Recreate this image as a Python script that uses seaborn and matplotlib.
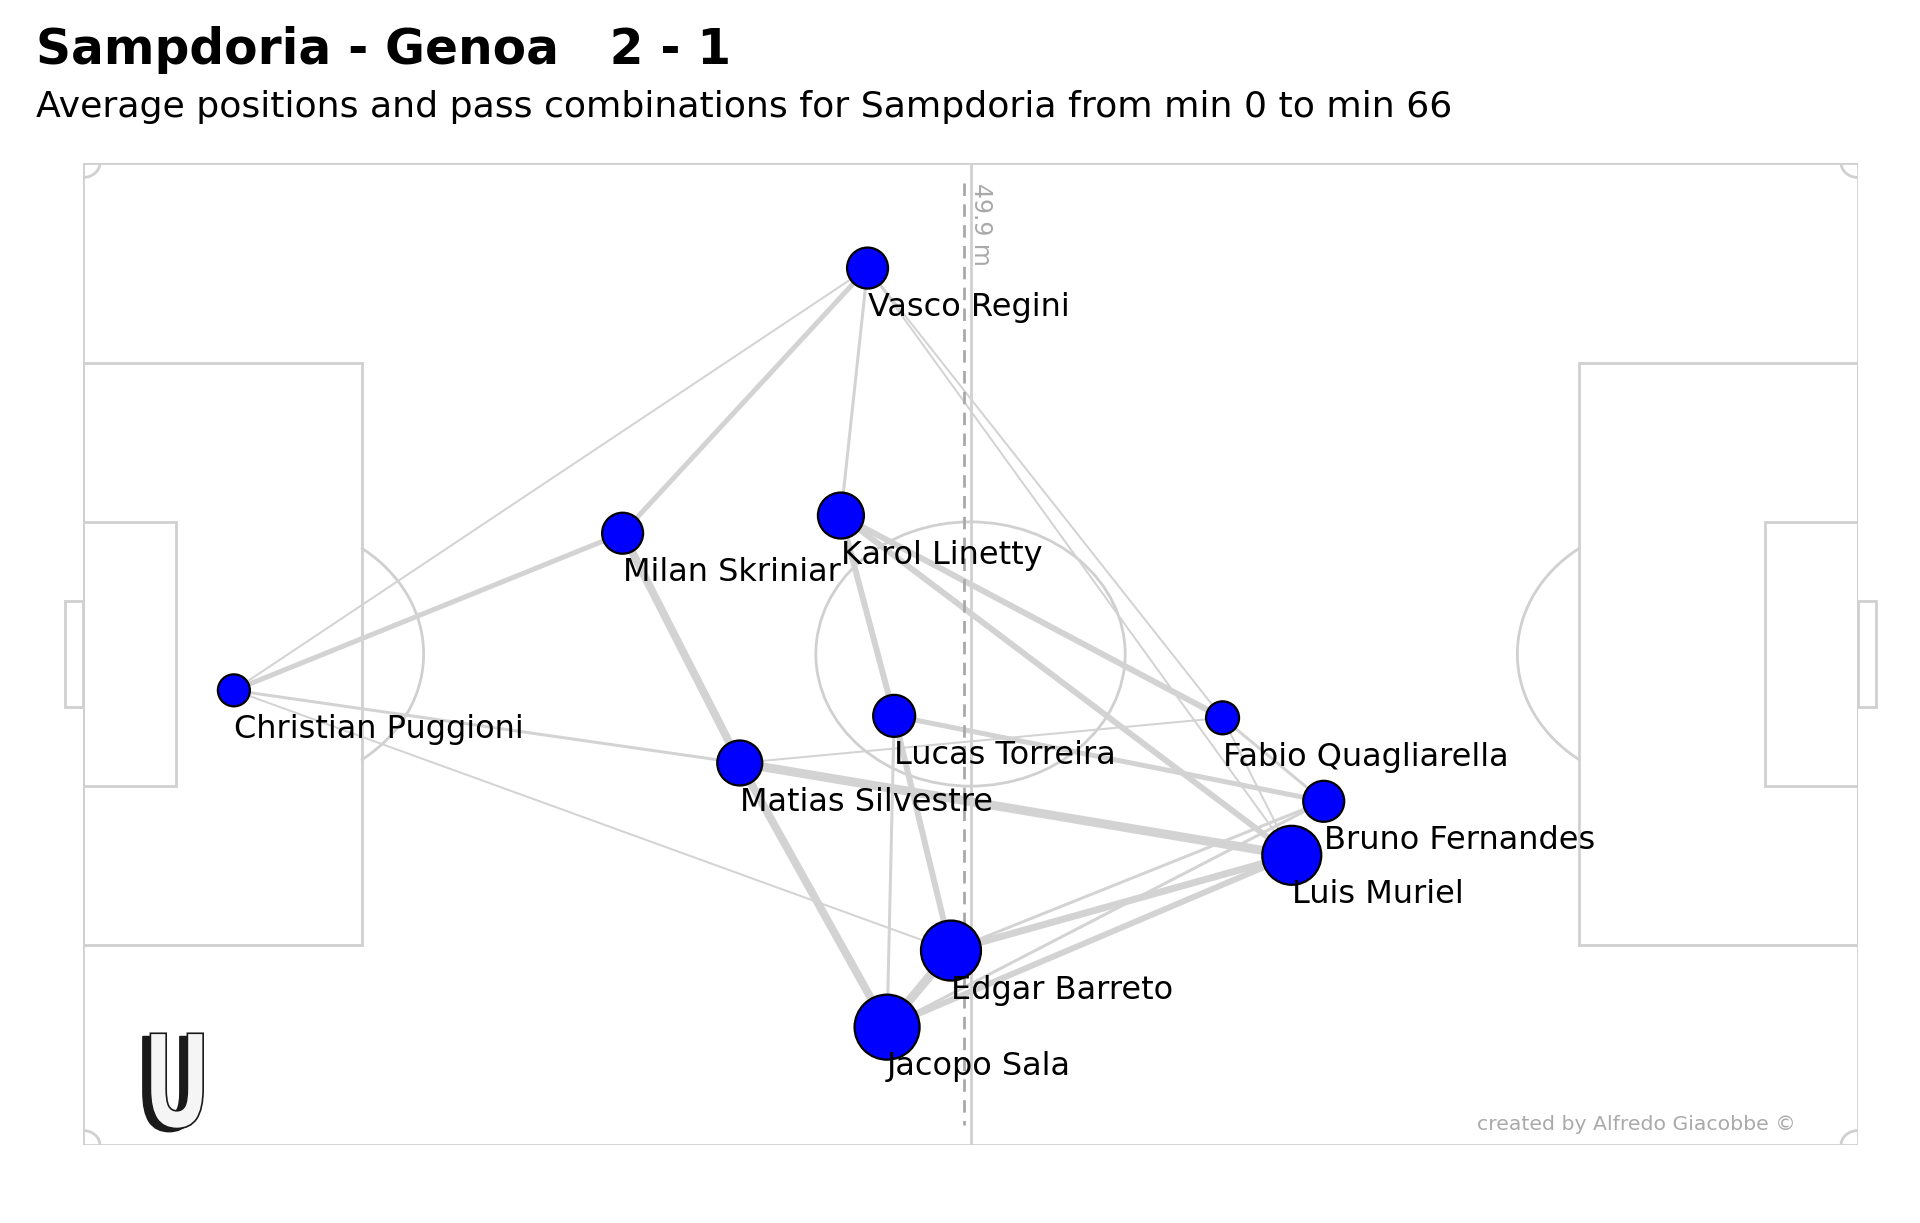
import matplotlib
matplotlib.use("Agg")
import matplotlib.pyplot as plt
import numpy as np
import pandas as pd
import seaborn as sns
from matplotlib.patches import Rectangle, Ellipse, PathPatch
from matplotlib.textpath import TextPath
from matplotlib.font_manager import FontProperties
from matplotlib.transforms import Affine2D

# average positions (wyscout-like 0-100 coordinates, y grows downwards)
players = ["Vasco Regini", "Milan Skriniar", "Karol Linetty", "Christian Puggioni",
           "Matias Silvestre", "Lucas Torreira", "Fabio Quagliarella", "Bruno Fernandes",
           "Luis Muriel", "Edgar Barreto", "Jacopo Sala"]
avg_x = [44.2, 30.4, 42.7, 8.5, 37.0, 45.7, 64.2, 69.9, 68.1, 48.9, 45.3]
avg_y = [10.7, 37.7, 35.9, 53.7, 61.1, 56.3, 56.5, 65.0, 70.5, 80.2, 88.0]
node_size = [41, 41, 46, 32, 45, 42, 33, 41, 59, 60, 65]
goalkeeper = "Christian Puggioni"

# pass combinations
pass_from = ["Christian Puggioni", "Christian Puggioni", "Christian Puggioni", "Christian Puggioni",
             "Vasco Regini", "Vasco Regini", "Vasco Regini", "Vasco Regini",
             "Milan Skriniar", "Matias Silvestre", "Matias Silvestre", "Matias Silvestre",
             "Karol Linetty", "Karol Linetty", "Karol Linetty",
             "Lucas Torreira", "Lucas Torreira", "Lucas Torreira",
             "Fabio Quagliarella", "Fabio Quagliarella",
             "Edgar Barreto", "Edgar Barreto", "Edgar Barreto",
             "Jacopo Sala", "Jacopo Sala"]
pass_to = ["Milan Skriniar", "Vasco Regini", "Matias Silvestre", "Edgar Barreto",
           "Milan Skriniar", "Karol Linetty", "Fabio Quagliarella", "Luis Muriel",
           "Matias Silvestre", "Jacopo Sala", "Luis Muriel", "Fabio Quagliarella",
           "Lucas Torreira", "Fabio Quagliarella", "Luis Muriel",
           "Edgar Barreto", "Jacopo Sala", "Bruno Fernandes",
           "Bruno Fernandes", "Luis Muriel",
           "Jacopo Sala", "Luis Muriel", "Bruno Fernandes",
           "Luis Muriel", "Bruno Fernandes"]
pass_count = [5, 2, 3, 2,
              5, 3, 2, 2,
              8, 8, 9, 2,
              6, 6, 6,
              6, 3, 5,
              3, 2,
              9, 7, 3,
              6, 3]

title = "Sampdoria - Genoa   2 - 1"
subtitle = "Average positions and pass combinations for Sampdoria from min 0 to min 66"
line_label = "49.9 m"

LINE = "#d0d0d0"
W, H = 1920, 1223
SX, SY = 100 / 105, 100 / 68  # metres -> pitch units


def arc(ax, cx, cy, r, t1, t2):
    t = np.radians(np.linspace(t1, t2, 120))
    ax.plot(cx + r * SX * np.cos(t), cy + r * SY * np.sin(t), color=LINE, lw=2, zorder=1)


def draw_pitch(ax):
    kw = dict(fill=False, ec=LINE, lw=2, zorder=1)
    ax.add_patch(Rectangle((0, 0), 100, 100, **kw))
    ax.plot([50, 50], [0, 100], color=LINE, lw=2, zorder=1)
    ax.add_patch(Ellipse((50, 50), 2 * 9.15 * SX, 2 * 9.15 * SY, **kw))
    box_d, box_w = 16.5 * SX, 40.32 * SY
    six_d, six_w = 5.5 * SX, 18.32 * SY
    goal_w = 7.32 * SY
    for x0 in (0, 100 - box_d):
        ax.add_patch(Rectangle((x0, 50 - box_w / 2), box_d, box_w, **kw))
    for x0 in (0, 100 - six_d):
        ax.add_patch(Rectangle((x0, 50 - six_w / 2), six_d, six_w, **kw))
    spot = 11 * SX
    a = np.degrees(np.arccos((box_d - spot) / (9.15 * SX)))
    arc(ax, spot, 50, 9.15, -a, a)
    arc(ax, 100 - spot, 50, 9.15, 180 - a, 180 + a)
    ax.add_patch(Rectangle((-1, 50 - goal_w / 2), 1, goal_w, clip_on=False, **kw))
    ax.add_patch(Rectangle((100, 50 - goal_w / 2), 1, goal_w, clip_on=False, **kw))
    for px, py, t1 in [(0, 0, 0), (100, 0, 90), (100, 100, 180), (0, 100, 270)]:
        arc(ax, px, py, 1, t1, t1 + 90)


sns.set_style("white")
plt.rcParams["text.color"] = "black"
fig = plt.figure(figsize=(W / 100, H / 100), dpi=100)
ax = fig.add_axes([83 / W, (H - 1145) / H, 1775 / W, 982 / H])

draw_pitch(ax)

nodes = pd.DataFrame({"player": players, "x": avg_x, "y": avg_y, "size": node_size})
pos = nodes.set_index("player")

rows = []
for i, (a, b, n) in enumerate(zip(pass_from, pass_to, pass_count)):
    for p in (a, b):
        rows.append({"edge": i, "x": pos.loc[p, "x"], "y": pos.loc[p, "y"], "passes": n})
edges = pd.DataFrame(rows)

sns.lineplot(data=edges, x="x", y="y", units="edge", estimator=None, sort=False,
             size="passes", sizes=(2 * 0.72, 9 * 0.72), size_norm=(2, 9),
             color="#d3d3d3", legend=False, ax=ax, zorder=2)

# average line of outfield players
mean_x = nodes.loc[nodes["player"] != goalkeeper, "x"].mean()
ax.plot([mean_x, mean_x], [2, 98], color="#a9a9a9", lw=2, dashes=(4.5, 3), zorder=3)
ax.text(mean_x + 0.3, 2.0, line_label, rotation=270, ha="left", va="top",
        fontsize=17, color="#a9a9a9", zorder=3)

sns.scatterplot(data=nodes, x="x", y="y", s=(nodes["size"].to_numpy() * 0.72) ** 2,
                color="blue", edgecolor="black", linewidth=1.6, legend=False,
                ax=ax, zorder=5)

for _, r in nodes.iterrows():
    ax.text(r["x"], r["y"] + 4.9, r["player"], fontsize=23, ha="left",
            va="baseline", color="black", zorder=6)

ax.text(96.5, 98.5, "created by Alfredo Giacobbe \u00a9", ha="right", va="baseline",
        fontsize=14.7, color="#aaaaaa", zorder=6)

ax.set_xlim(0, 100)
ax.set_ylim(100, 0)
ax.axis("off")

fig.text(36 / W, 1 - 64 / H, title, fontsize=35, fontweight="bold", va="baseline", color="black")
fig.text(36 / W, 1 - 117 / H, subtitle, fontsize=26.1, va="baseline", color="black")

# logo: black U with a white face shifted up-right
lax = fig.add_axes([142 / W, (H - 1133) / H, 62 / W, 101 / H])
tp = TextPath((0, 0), "U", size=1, prop=FontProperties(family="DejaVu Sans", weight="bold"))
ext = tp.get_extents()
dx, dy = 0.09, 0.025
face = tp.transformed(Affine2D().translate(dx, dy))
lax.add_patch(PathPatch(tp, fc="#1a1a1a", ec="#1a1a1a", lw=1))
lax.add_patch(PathPatch(face, fc="#f5f5f5", ec="#1a1a1a", lw=1.2))
lax.set_xlim(ext.x0 - 0.01, ext.x1 + dx + 0.01)
lax.set_ylim(ext.y0 - 0.01, ext.y1 + dy + 0.01)
lax.axis("off")

fig.savefig("out.png", dpi=100, facecolor="white")
